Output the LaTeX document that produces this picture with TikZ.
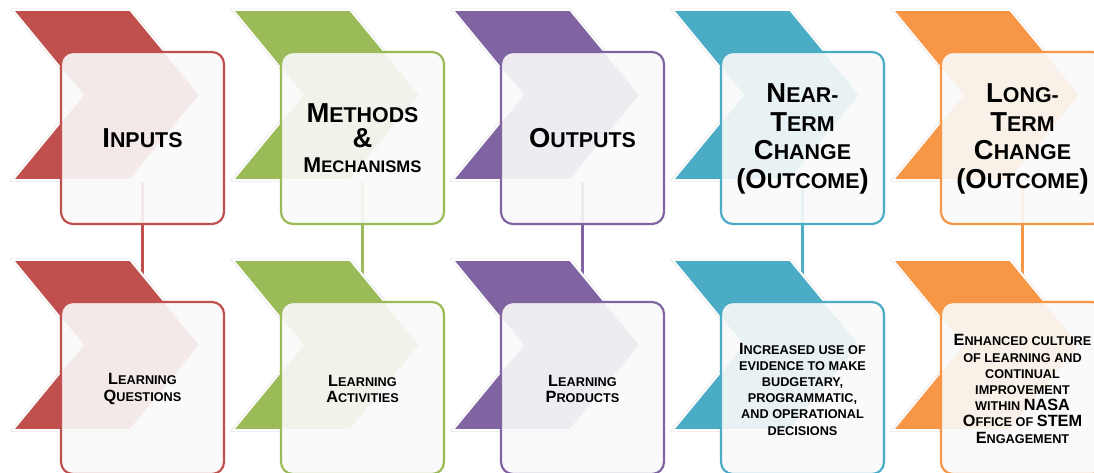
\documentclass[tikz,border=0pt]{standalone}
\usepackage{fontspec}
\setmainfont{Liberation Sans}
\usetikzlibrary{calc}
\definecolor{cred}{HTML}{C0504D}
\definecolor{cgreen}{HTML}{9BBB59}
\definecolor{cpurple}{HTML}{8064A2}
\definecolor{cblue}{HTML}{4BACC6}
\definecolor{corange}{HTML}{F79646}
\definecolor{boxfill}{HTML}{FAFAFA}
\pgfdeclarelayer{bg}
\pgfdeclarelayer{links}
\pgfdeclarelayer{chevrons}
\pgfsetlayers{bg,links,chevrons,main}
\newcommand\BigT[1]{{\fontsize{27.4}{28.5}\selectfont #1}}
\newcommand\MidT[1]{{\fontsize{21.4}{25}\selectfont #1}}
\newcommand\BigB[1]{{\fontsize{16.3}{16.2}\selectfont #1}}
\tikzset{
  chev/.style={fill=#1, draw=white, line width=1.6pt, line join=miter},
  chevshadow/.style={draw=black!10, line width=3pt, line join=miter},
  box/.style={draw=#1, line width=2.2pt, rounded corners=12pt, fill=boxfill,
    fill opacity=0.9, minimum width=163pt, minimum height=172pt, inner sep=0pt},
  link/.style={draw=#1, line width=2.5pt},
  toptext/.style={font=\bfseries\fontsize{21.4}{28.5}\selectfont, align=center, text=black, inner sep=0pt},
  bottext/.style={font=\bfseries\fontsize{12.7}{16.2}\selectfont, align=center, text=black, inner sep=0pt},
}
\begin{document}
\begin{tikzpicture}[x=1pt,y=-1pt]
\useasboundingbox (0,0) rectangle (1094,472);
\clip (0,0) rectangle (1094,472);
\begin{pgfonlayer}{bg}
  \fill[white] (0,0) rectangle (1094,472);
\end{pgfonlayer}
% chevrons
\begin{pgfonlayer}{chevrons}
\foreach \i/\c in {0/cred,1/cgreen,2/cpurple,3/cblue,4/corange}{
  \foreach \r in {0,250}{
    \begin{scope}[shift={(220*\i,\r)}]
      \draw[chevshadow] (13,10) -- (130,10) -- (200,95) -- (130,180) -- (13,180) -- (83,95) -- cycle;
      \filldraw[chev=\c] (13,10) -- (130,10) -- (200,95) -- (130,180) -- (13,180) -- (83,95) -- cycle;
    \end{scope}
  }
}
\end{pgfonlayer}
% boxes, top row
\node[box=cred]    (t1) at (142.5,138) {};
\node[box=cgreen]  (t2) at (362.5,138) {};
\node[box=cpurple] (t3) at (582.5,138) {};
\node[box=cblue]   (t4) at (802.5,138) {};
\node[box=corange] (t5) at (1022.5,138) {};
% boxes, bottom row
\node[box=cred]    (u1) at (142.5,388) {};
\node[box=cgreen]  (u2) at (362.5,388) {};
\node[box=cpurple] (u3) at (582.5,388) {};
\node[box=cblue]   (u4) at (802.5,388) {};
\node[box=corange] (u5) at (1022.5,388) {};
% texts, top row
\node[toptext] (tt1) at (t1) {\BigT{I}NPUTS};
\node[toptext] (tt2) at (t2) {\BigT{M}ETHODS\\[-3.5pt] \BigT{\&}\\[-4pt] {\fontsize{16.7}{20}\selectfont\MidT{M}ECHANISMS}};
\node[toptext] (tt3) at (t3) {\BigT{O}UTPUTS};
\node[toptext] (tt4) at ($(t4)+(0,1)$) {\BigT{N}EAR-\\ \BigT{T}ERM\\ \BigT{C}HANGE\\ \BigT{(O}UTCOME\BigT{)}};
\node[toptext] (tt5) at ($(t5)+(0,1)$) {\BigT{L}ONG-\\ \BigT{T}ERM\\ \BigT{C}HANGE\\ \BigT{(O}UTCOME\BigT{)}};
% texts, bottom row
\node[bottext] (ut1) at ($(u1)+(0,1)$) {\BigB{L}EARNING\\ \BigB{Q}UESTIONS};
\node[bottext] (ut2) at ($(u2)+(0,1)$) {\BigB{L}EARNING\\ \BigB{A}CTIVITIES};
\node[bottext] (ut3) at ($(u3)+(0,1)$) {\BigB{L}EARNING\\ \BigB{P}RODUCTS};
\node[bottext] (ut4) at ($(u4)+(0,1)$) {\BigB{I}NCREASED USE OF\\ EVIDENCE TO MAKE\\ BUDGETARY,\\ PROGRAMMATIC,\\ AND OPERATIONAL\\ DECISIONS};
\node[bottext] (ut5) at ($(u5)+(0,1)$) {\BigB{E}NHANCED CULTURE\\ OF LEARNING AND\\ CONTINUAL\\ IMPROVEMENT\\ WITHIN \BigB{NASA}\\ \BigB{O}FFICE OF \BigB{STEM}\\ \BigB{E}NGAGEMENT};
% connectors
\begin{pgfonlayer}{links}
  \draw[link=cred]    ($(t1.center)+(0,44)$) -- (u1.north);
  \draw[link=cgreen]  ($(t2.center)+(0,44)$) -- (u2.north);
  \draw[link=cpurple] ($(t3.center)+(0,44)$) -- (u3.north);
  \draw[link=cblue]   ($(t4.center)+(0,44)$) -- (u4.north);
  \draw[link=corange] ($(t5.center)+(0,44)$) -- (u5.north);
\end{pgfonlayer}
\end{tikzpicture}
\end{document}
